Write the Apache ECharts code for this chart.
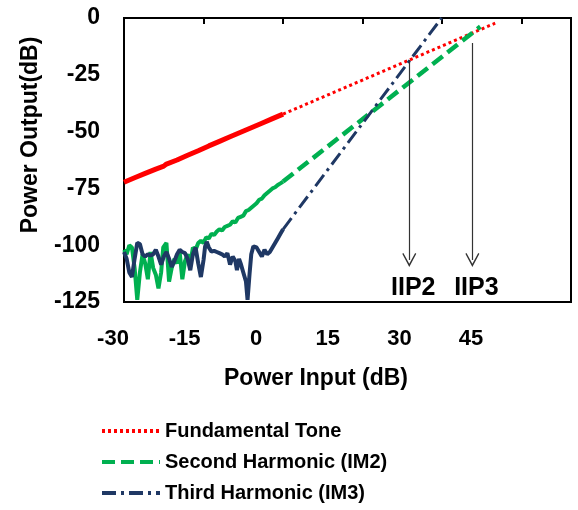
<!DOCTYPE html>
<html>
<head>
<meta charset="utf-8">
<script src="https://cdn.jsdelivr.net/npm/echarts@6/dist/echarts.min.js"></script>
<style>
  html, body { margin: 0; padding: 0; background: #fff; }
  #chart { width: 578px; height: 510px; }
</style>
</head>
<body>
<div id="chart"></div>
<script>
// measured tone, Pin (dB) vs Pout (dB)
const fundMeasured = [
  [-30, -72.3], [-28, -70.3], [-26, -68.4], [-24, -66.5], [-22.5, -65.2], [-22, -64.3],
  [-20, -62.5], [-18, -60.4], [-16, -58.4], [-14, -56.3], [-12, -54.3], [-10, -52.3],
  [-8, -50.3], [-6, -48.3], [-4, -46.3], [-2, -44.3], [0, -42.3]
]
const im2Measured = [
  [-30, -102], [-29.5, -104], [-29, -100], [-28.5, -101], [-28, -110], [-27.5, -124],
  [-27, -112], [-26.5, -104], [-26, -108], [-25.5, -115], [-25, -103], [-24.5, -110],
  [-24, -113], [-23.5, -119], [-23, -112], [-22.6, -101], [-22, -99], [-21.5, -116],
  [-21, -110], [-20.5, -106], [-20, -108], [-19.5, -103], [-19, -115], [-18.5, -107],
  [-18, -104], [-17.5, -108], [-17, -101], [-16.5, -102], [-16, -99], [-15.5, -98],
  [-15, -99], [-14.5, -96.5], [-14, -97], [-13.5, -95], [-13, -95.5], [-12.5, -94],
  [-12, -93], [-11.5, -93.5], [-11, -92], [-10.5, -91.5], [-10, -91], [-9.5, -89.5],
  [-9, -90], [-8.5, -88], [-8, -87.5], [-7.5, -87], [-7, -85], [-6.5, -84.5],
  [-6, -83.5], [-5.5, -82.5], [-5, -81.5], [-4.5, -80], [-4, -79.5], [-3.5, -78],
  [-3, -77], [-2.5, -76], [-2, -75], [-1.5, -74.5], [-1, -73.5], [-0.5, -72.8], [0, -72]
]
const im3Measured = [
  [-30, -103], [-29.5, -106], [-29, -112], [-28.5, -114], [-28, -106], [-27.5, -99],
  [-27, -99.5], [-26.5, -104], [-26, -105], [-25.5, -104], [-25, -104.5], [-24.5, -104],
  [-24, -102], [-23.5, -105], [-23, -108.5], [-22.5, -105], [-22, -103], [-21.5, -106],
  [-21, -109.5], [-20.5, -107], [-20, -104], [-19.5, -102], [-19, -103], [-18.5, -103.5],
  [-18, -106], [-17.5, -111], [-17, -104], [-16.5, -101], [-16, -108], [-15.5, -114],
  [-15, -106.5], [-14.7, -100.5], [-14.4, -98.5], [-14, -101], [-13.5, -102.8], [-13, -102.5],
  [-12.5, -103], [-12, -103.5], [-11.5, -104], [-11, -105], [-10.5, -103.5], [-10, -108.5],
  [-9.5, -105], [-9, -107], [-8.7, -111], [-8.3, -106], [-8, -108], [-7.5, -112],
  [-7, -116], [-6.7, -124], [-6.3, -112], [-6, -104], [-5.6, -100.5], [-5, -101],
  [-4.5, -103], [-4, -105], [-3.5, -102], [-3, -104], [-2.5, -103], [-2, -101],
  [-1.5, -99], [-1, -97], [-0.5, -95], [0, -93]
]
// extrapolated lines
const fundFit = [[0, -42.3], [40, -2.3]]
const im2Fit = [[0, -72], [37.2, -3.8]]
const im3Fit = [[0, -93], [29.9, 0]]
// intercept arrows: [Pin, top, bottom, label]
const intercepts = [
  [23.8, -18.5, -106.5, 'IIP2'],
  [35.7, -11, -106.5, 'IIP3']
]
const xTicks = [-30, -15, 0, 15, 30, 45]

const FONT = '"Liberation Sans", Arial, sans-serif'
const RED = '#ff0000'
const GREEN = '#00b050'
const NAVY = '#1f3864'

let chart = echarts.init(document.getElementById('chart'))

const vArrow = 'path://M0,10 L5,0 L10,10 L9.2,10.6 L5,2.4 L0.8,10.6 Z'

chart.setOption({
  animation: false,
  textStyle: { fontFamily: FONT },
  grid: [
    { left: 124, top: 18, right: 7, bottom: 208, show: true, borderColor: '#000', borderWidth: 2 },
    { left: 113, top: 18, width: 358, height: 284 }
  ],
  xAxis: [
    {
      type: 'value', gridIndex: 0, position: 'top', min: -30, max: 54.3, interval: 15,
      axisLine: { show: false },
      axisTick: { show: true, inside: true, length: 6, lineStyle: { color: '#000', width: 2 } },
      axisLabel: { show: false },
      splitLine: { show: false }
    },
    {
      type: 'value', gridIndex: 1, position: 'bottom', min: xTicks[0], max: xTicks[xTicks.length - 1], interval: 15,
      axisLine: { show: false }, axisTick: { show: false }, splitLine: { show: false },
      axisLabel: { color: '#000', fontWeight: 'bold', fontSize: 22, margin: 26, fontFamily: FONT },
      name: 'Power Input (dB)', nameLocation: 'middle', nameGap: 65,
      nameTextStyle: { color: '#000', fontWeight: 'bold', fontSize: 23, padding: [0, 0, 0, 48], fontFamily: FONT }
    }
  ],
  yAxis: [
    {
      type: 'value', gridIndex: 0, min: -125, max: 0, interval: 25,
      axisLine: { show: false }, axisTick: { show: false }, splitLine: { show: false },
      axisLabel: { color: '#000', fontWeight: 'bold', fontSize: 23, margin: 24, fontFamily: FONT },
      name: 'Power Output(dB)', nameLocation: 'middle', nameGap: 82,
      nameTextStyle: { color: '#000', fontWeight: 'bold', fontSize: 23, padding: [0, 0, 0, 50], fontFamily: FONT }
    },
    { type: 'value', gridIndex: 1, min: -125, max: 0, show: false }
  ],
  legend: {
    orient: 'vertical', left: 100, top: 421, padding: 0, height: 89,
    itemWidth: 58, itemHeight: 14, itemGap: 11,
    itemStyle: { opacity: 0 },
    lineStyle: { width: 4 },
    data: ['Fundamental Tone', 'Second Harmonic (IM2)', 'Third Harmonic (IM3)'],
    textStyle: { color: '#000', fontWeight: 'bold', fontSize: 20, lineHeight: 20, fontFamily: FONT }
  },
  series: [
    {
      name: 'fund measured', type: 'line', data: fundMeasured, symbol: 'none',
      lineStyle: { color: RED, width: 5 }, z: 3
    },
    {
      name: 'im2 measured', type: 'line', data: im2Measured, symbol: 'none',
      lineStyle: { color: GREEN, width: 4 }, z: 3
    },
    {
      name: 'im3 measured', type: 'line', data: im3Measured, symbol: 'none',
      lineStyle: { color: NAVY, width: 4 }, z: 4
    },
    {
      name: 'Fundamental Tone', type: 'line', data: fundFit, symbol: 'none', color: RED,
      lineStyle: { color: RED, width: 3, type: [3, 3] }, z: 2
    },
    {
      name: 'Second Harmonic (IM2)', type: 'line', data: im2Fit, symbol: 'none', color: GREEN,
      lineStyle: { color: GREEN, width: 4.5, type: [13, 6] }, z: 2
    },
    {
      name: 'Third Harmonic (IM3)', type: 'line', data: im3Fit, symbol: 'none', color: NAVY,
      lineStyle: { color: NAVY, width: 3, type: [14, 5, 3, 5] }, z: 2
    },
    {
      name: 'intercepts', type: 'line', data: [], symbol: 'none',
      markLine: {
        silent: true,
        symbol: ['none', vArrow],
        symbolSize: [14, 14],
        lineStyle: { color: '#333', width: 1.2, type: 'solid' },
        itemStyle: { color: '#333' },
        label: {
          show: true, position: 'end', distance: 16, formatter: '{b}', padding: [0, 0, 0, 8],
          color: '#000', fontWeight: 'bold', fontSize: 25, fontFamily: FONT
        },
        data: intercepts.map(d => [
          { name: d[3], coord: [d[0], d[1]] },
          { coord: [d[0], d[2]] }
        ])
      }
    }
  ]
})
</script>
</body>
</html>
